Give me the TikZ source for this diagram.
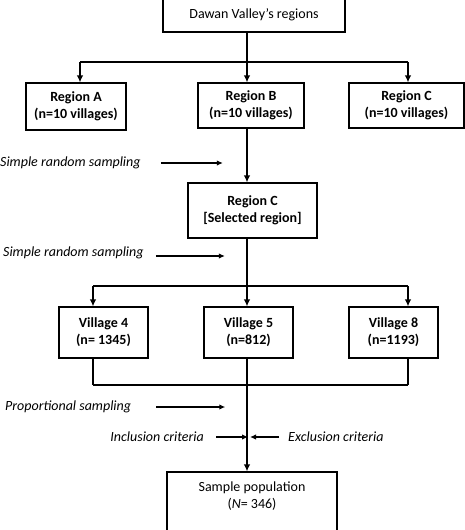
\documentclass[tikz,border=0pt]{standalone}
\usepackage{fontspec}
\setmainfont{Carlito}
\usetikzlibrary{arrows.meta,calc}

\begin{document}
\begin{tikzpicture}[x=1pt,y=-1pt,
		font=\fontsize{14}{17}\selectfont,
		box/.style={draw,line width=1.1pt,align=center,inner sep=0pt},
		bbox/.style={box,font=\fontsize{14}{17}\selectfont\bfseries},
		note/.style={font=\fontsize{14}{17}\selectfont\itshape,inner sep=0pt},
		link/.style={line width=1.4pt},
		arr/.style={link,-{Latex[length=7pt,width=6.5pt]}},
		sarr/.style={line width=1.2pt,-{Latex[length=6pt,width=5.5pt]}}]
		\useasboundingbox (0,0) rectangle (464,530);
		% boxes
		\node[box,minimum width=182pt,minimum height=35pt] (top) at (254,14.5) {Dawan Valley’s regions};
		\node[bbox,minimum width=100pt,minimum height=47pt] (ra) at (76,106.5) {Region A\\(n=10 villages)};
		\node[bbox,minimum width=106pt,minimum height=45pt] (rb) at (251,105.5) {Region B\\(n=10 villages)};
		\node[bbox,minimum width=115pt,minimum height=45pt] (rc) at (406.5,105.5) {Region C\\(n=10 villages)};
		\node[bbox,minimum width=129pt,minimum height=55pt] (sel) at (252.5,210.5) {Region C\\{[}Selected region{]}};
		\node[bbox,minimum width=89pt,minimum height=51pt] (v4) at (103.5,332.5) {Village 4\\(n= 1345)};
		\node[bbox,minimum width=89pt,minimum height=51pt] (v5) at (248.5,332.5) {Village 5\\(n=812)};
		\node[bbox,minimum width=89pt,minimum height=51pt] (v8) at (393.5,332.5) {Village 8\\(n=1193)};
		\node[box,minimum width=170pt,minimum height=70pt] (sp) at (252,507) {};
		\node[align=center,inner sep=0pt] (sptxt) at (252,496.5) {Sample population\\(\textit{N}= 346)};
		% side notes
		\node[note,anchor=west] (srs1) at (0,163) {Simple random sampling};
		\node[note,anchor=west] (srs2) at (3,253) {Simple random sampling};
		\node[note,anchor=west] (prop) at (5,407) {Proportional sampling};
		\node[note,anchor=east] (incl) at (204,437) {Inclusion criteria};
		\node[note,anchor=west] (excl) at (288,437) {Exclusion criteria};
		% junctions
		\coordinate (s1) at (247,62);
		\coordinate (s1a) at (80,62);
		\coordinate (s1c) at (408,62);
		\coordinate (s2) at (247,286);
		\coordinate (s2a) at (93,286);
		\coordinate (s2c) at (408,286);
		\coordinate (s3) at (247,385);
		\coordinate (s3a) at (93,385);
		\coordinate (s3c) at (408,385);
		\coordinate (mid) at (248,437);
		% first split
		\path[link] (top.south -| s1) edge (s1)
			(s1a) edge (s1c);
		\draw[arr] (s1a) -- (ra.north -| s1a);
		\draw[arr] (s1) -- (rb.north -| s1);
		\draw[arr] (s1c) -- (rc.north -| s1c);
		\draw[arr] (rb.south -| s1) -- (sel.north -| s1);
		% second split
		\path[link] (sel.south -| s2) edge (s2)
			(s2a) edge (s2c);
		\draw[arr] (s2a) -- (v4.north -| s2a);
		\draw[arr] (s2) -- (v5.north -| s2);
		\draw[arr] (s2c) -- (v8.north -| s2c);
		% merge
		\path[link] (v4.south -| s3a) edge (s3a)
			(v8.south -| s3c) edge (s3c)
			(s3a) edge (s3c);
		\draw[arr] (v5.south -| s3) -- (sp.north -| s3);
		% side arrows
		\draw[sarr] ($(srs1.east)+(20,0)$) -- ($(srs1.east)+(82,0)$);
		\draw[sarr] ($(srs2.east)+(12,3)$) -- ($(srs2.east)+(81,3)$);
		\draw[sarr] ($(prop.east)+(25,0)$) -- ($(prop.east)+(94,0)$);
		\draw[sarr] ($(incl.east)+(12,0)$) -- (mid);
		\draw[sarr] ($(excl.west)+(-9,0)$) -- ($(mid)+(2,0)$);
	\end{tikzpicture}
\end{document}
